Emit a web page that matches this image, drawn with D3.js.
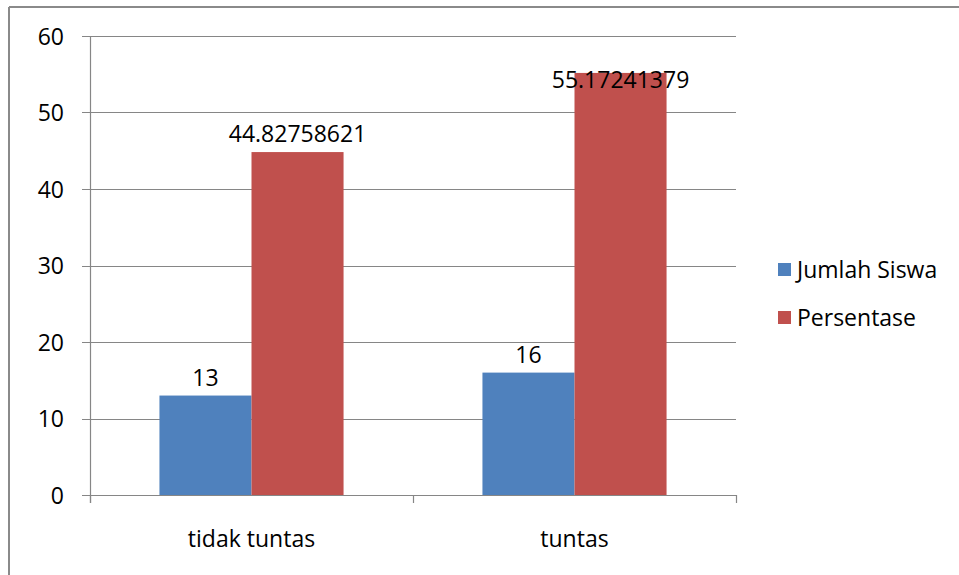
<!DOCTYPE html>
<html>
<head>
<meta charset="utf-8">
<script src="https://cdn.jsdelivr.net/npm/d3@7"></script>
<style>
  body { margin: 0; background: #fff; }
  svg { display: block; font-family: "Open Sans", sans-serif; }
</style>
</head>
<body>
<svg id="chart"></svg>
<script>
const categories = ["tidak tuntas", "tuntas"];
const seriesNames = ["Jumlah Siswa", "Persentase"];
const jumlahSiswa = [13, 16];
const persentase = [44.82758621, 55.17241379];
const labelsJumlah = ["13", "16"];
const labelsPersen = ["44.82758621", "55.17241379"];
const yTicks = [0, 10, 20, 30, 40, 50, 60];

const width = 959;
const height = 575;
const colors = ["#4F81BD", "#C0504D"];
const gridColor = "#868686";

let svg = d3.select("#chart").attr("width", width).attr("height", height);

// outer frame (only top and left visible)
svg.append("line").attr("x1", 9).attr("x2", width).attr("y1", 7).attr("y2", 7)
    .attr("stroke", "#8a8a8a").attr("stroke-width", 2);
svg.append("line").attr("x1", 9).attr("x2", 9).attr("y1", 7).attr("y2", height)
    .attr("stroke", "#8a8a8a").attr("stroke-width", 2);

const plotLeft = 90, plotRight = 736, plotTop = 36, plotBottom = 495;

let scaleX = d3.scaleBand().domain(categories).range([plotLeft, plotRight]);
let scaleY = d3.scaleLinear().domain([0, 60]).range([plotBottom, plotTop]);
let gap = scaleX.bandwidth() * 0.215;
let scaleSub = d3.scaleBand().domain([0, 1]).range([gap, scaleX.bandwidth() - gap]);

// gridlines + y ticks
svg.selectAll(".grid")
    .data(yTicks)
    .enter()
    .append("line")
    .attr("x1", plotLeft - 8)
    .attr("x2", plotRight)
    .attr("y1", d => Math.round(scaleY(d)) + 0.5)
    .attr("y2", d => Math.round(scaleY(d)) + 0.5)
    .attr("stroke", gridColor)
    .attr("stroke-width", 1.2);

svg.selectAll(".ytick")
    .data(yTicks)
    .enter()
    .append("text")
    .attr("x", 64)
    .attr("y", d => scaleY(d) + 8.5)
    .attr("text-anchor", "end")
    .attr("font-size", 23)
    .attr("fill", "#000")
    .text(d => d);

// y axis
svg.append("line")
    .attr("x1", plotLeft + 0.5).attr("x2", plotLeft + 0.5)
    .attr("y1", plotTop).attr("y2", plotBottom + 8)
    .attr("stroke", gridColor).attr("stroke-width", 1.2);

// x axis ticks
let xTickPos = categories.map(c => scaleX(c)).concat([plotRight]);
svg.selectAll(".xtick")
    .data(xTickPos)
    .enter()
    .append("line")
    .attr("x1", d => Math.round(d) + 0.5)
    .attr("x2", d => Math.round(d) + 0.5)
    .attr("y1", plotBottom)
    .attr("y2", plotBottom + 8)
    .attr("stroke", gridColor)
    .attr("stroke-width", 1.2);

// bars
let seriesData = [jumlahSiswa, persentase];
let seriesLabels = [labelsJumlah, labelsPersen];
seriesData.forEach((values, s) => {
    svg.selectAll(`.bar-${s}`)
        .data(values)
        .enter()
        .append("rect")
        .attr("class", `bar-${s}`)
        .attr("x", (d, i) => scaleX(categories[i]) + scaleSub(s))
        .attr("y", d => scaleY(d))
        .attr("width", scaleSub.bandwidth())
        .attr("height", d => plotBottom - scaleY(d))
        .attr("fill", colors[s]);
});

// value labels
seriesData.forEach((values, s) => {
    svg.selectAll(`.lbl-${s}`)
        .data(values)
        .enter()
        .append("text")
        .attr("x", (d, i) => scaleX(categories[i]) + scaleSub(s) + scaleSub.bandwidth() / 2)
        .attr("y", d => Math.max(scaleY(d) - 10, plotTop + 52))
        .attr("text-anchor", "middle")
        .attr("font-size", 23)
        .attr("fill", "#000")
        .text((d, i) => seriesLabels[s][i]);
});

// category labels
svg.selectAll(".xlabel")
    .data(categories)
    .enter()
    .append("text")
    .attr("x", d => scaleX(d) + scaleX.bandwidth() / 2)
    .attr("y", plotBottom + 52)
    .attr("text-anchor", "middle")
    .attr("font-size", 23)
    .attr("fill", "#000")
    .text(d => d);

// legend
let legend = svg.selectAll(".legend")
    .data(seriesNames)
    .enter()
    .append("g")
    .attr("transform", (d, i) => `translate(778, ${270 + i * 48})`);
legend.append("rect")
    .attr("x", 0).attr("y", -7)
    .attr("width", 13).attr("height", 13)
    .attr("fill", (d, i) => colors[i]);
legend.append("text")
    .attr("x", 19)
    .attr("y", 8)
    .attr("font-size", 23)
    .attr("fill", "#000")
    .text(d => d);
</script>
</body>
</html>
